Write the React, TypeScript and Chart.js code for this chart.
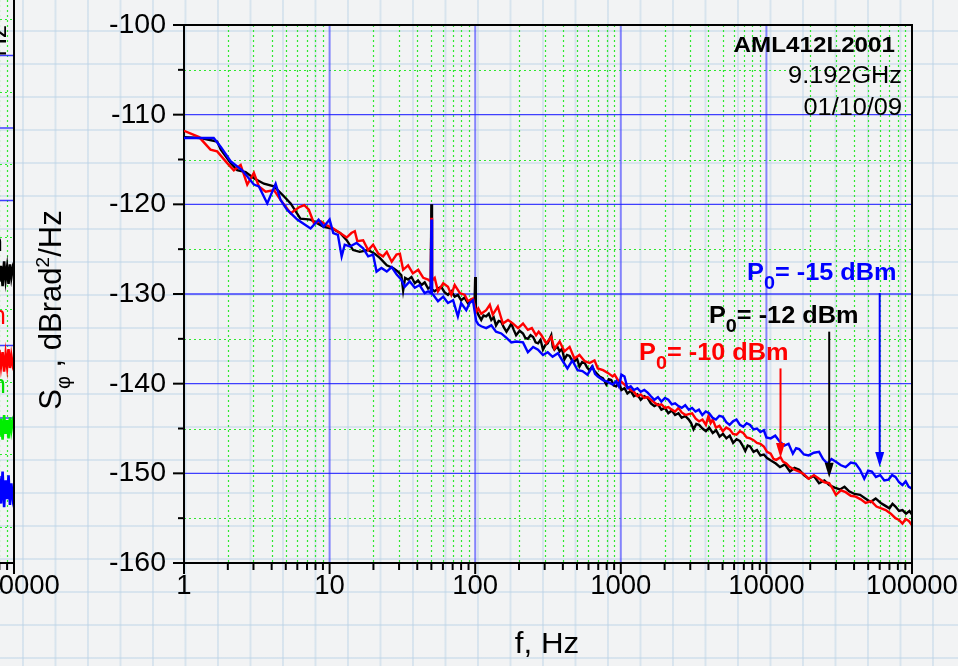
import React, { useEffect, useRef } from 'react';
import { Chart, registerables } from 'chart.js';

Chart.register(...registerables);

const FONT = '"Liberation Sans", Arial, Helvetica, sans-serif';

// ---------------- data (frequency Hz, S_phi dBrad^2/Hz) ----------------
const blackPsd: [number, number][] = [
  [1, -112.5], [1.3, -112.6], [1.69, -113.0], [1.79, -113.9], [2.09, -115.4], [2.32, -116.2], [2.65, -116.4],
  [3.02, -117.1], [3.54, -117.7], [4.15, -118.0], [4.85, -119.1], [5.4, -119.9], [6.3, -121.6], [7.4, -121.7],
  [8.2, -122.1], [9.1, -122.5], [10.4, -122.7], [11.8, -123.2], [13.1, -124.0], [14.5, -125.1], [16.1, -125.3],
  [18.4, -125.1], [20.4, -125.5], [22.2, -126.0], [24.7, -126.8], [27.3, -127.1], [29.5, -127.5], [31.1, -127.9],
  [32, -129.6], [33, -128.2], [34.6, -128.4], [36.5, -128.1], [38.5, -128.8], [40.5, -128.5], [42.8, -129.0],
  [45, -128.7], [47.5, -129.4], [49.5, -129.2], [50, -120.0], [50.5, -129.5], [52.7, -129.7], [55.5, -129.4],
  [58.5, -129.2], [61.5, -129.8], [65, -130.1], [68.5, -129.7], [72.3, -130.3], [76, -130.1], [80, -130.7],
  [84.5, -130.4], [89, -131.0], [94, -130.6], [99, -131.0], [100, -128.1], [101, -131.6], [105, -132.3],
  [110, -132.9], [114, -132.4], [119, -132.5], [124, -132.2], [129, -132.9], [134, -132.6], [139, -133.5],
  [145, -133.0], [151, -133.1], [157, -133.7], [164, -134.2], [170, -133.8], [177, -133.3], [184, -134.0],
  [191, -134.6], [202, -134.1], [213, -134.4], [221, -134.9], [230, -135.0], [240, -134.6], [250, -134.8],
  [260, -135.4], [270, -135.5], [281, -135.1], [292, -136.2], [303, -135.7], [315, -135.5], [333, -134.6],
  [341, -135.9], [350, -136.2], [365, -135.8], [380, -136.4], [395, -136.1], [410, -137.3], [427, -136.8],
  [445, -136.9], [462, -137.4], [480, -137.5], [500, -137.2], [520, -138.1], [542, -137.6], [565, -137.7],
  [587, -138.2], [610, -138.5], [635, -138.1], [660, -138.6], [687, -138.9], [715, -139.2], [755, -139.4],
  [795, -140.1], [827, -139.5], [860, -139.6], [895, -140.2], [930, -140.3], [970, -139.9], [1010, -140.7],
  [1060, -140.5], [1110, -141.1], [1170, -140.8], [1230, -141.4], [1300, -141.2], [1370, -141.8], [1450, -141.4],
  [1530, -141.6], [1610, -142.2], [1700, -142.5], [1800, -142.3], [1900, -142.9], [2010, -142.7], [2120, -143.3],
  [2240, -143.0], [2360, -143.5], [2490, -143.3], [2620, -143.8], [2770, -143.6], [2930, -144.0], [3040, -144.4],
  [3160, -145.1], [3300, -144.5], [3450, -144.6], [3640, -145.0], [3840, -145.3], [4050, -144.9], [4280, -145.5],
  [4520, -145.2], [4770, -145.9], [5040, -145.6], [5310, -146.1], [5600, -145.8], [5910, -146.6], [6240, -146.2],
  [6580, -146.4], [6860, -146.9], [7160, -147.5], [7440, -146.9], [7730, -147.0], [8160, -147.6], [8610, -147.4],
  [9090, -148.0], [9600, -147.9], [10100, -148.3], [10800, -148.6], [11600, -148.9], [12400, -149.3],
  [13400, -149.0], [14500, -149.8], [15600, -149.4], [16800, -149.6], [18100, -150.2], [19500, -150.6],
  [21200, -150.3], [23000, -151.1], [25000, -150.8], [27000, -151.3], [29400, -151.6], [32000, -151.8],
  [34400, -151.5], [37000, -152.0], [40300, -152.3], [44000, -152.4], [47800, -152.8], [52000, -153.2],
  [56300, -152.8], [61000, -153.3], [65300, -153.6], [70000, -153.9], [73500, -153.4], [77000, -153.7],
  [81500, -154.2], [86000, -154.1], [91000, -154.5], [96000, -154.2], [100000, -154.6],
];

const redPsd: [number, number][] = [
  [1, -111.8], [1.27, -112.5], [1.52, -113.9], [1.69, -114.1], [1.98, -115.4], [2.2, -116.2], [2.45, -115.6],
  [2.72, -117.8], [3.02, -116.5], [3.27, -118.0], [3.64, -118.6], [4.15, -118.4], [4.6, -119.5], [5.4, -121.0],
  [6.2, -120.3], [6.7, -120.1], [7.2, -120.6], [7.8, -122.1], [8.7, -121.9], [9.5, -122.3], [10.6, -122.7],
  [11.8, -123.2], [13.1, -123.7], [14.1, -123.2], [14.9, -123.0], [15.5, -124.1], [17.0, -124.0], [18.4, -125.1],
  [19.9, -124.5], [21.6, -125.5], [23.3, -125.8], [24.7, -125.3], [26.7, -126.4], [28.8, -125.6], [30.4, -125.5],
  [32.0, -127.3], [34.6, -126.8], [37.3, -127.7], [40.6, -127.3], [44, -128.2], [47.5, -128.4], [49.5, -128.6],
  [50, -121.5], [50.5, -128.5], [52.7, -128.2], [55.5, -129.7], [60.3, -128.8], [65, -129.2], [68.5, -130.1],
  [72.3, -129.0], [78.5, -129.9], [84.8, -130.1], [89, -130.8], [96.5, -130.5], [101.5, -132.0], [105, -131.6],
  [110, -132.2], [119, -131.8], [126, -131.2], [132, -132.3], [143, -131.4], [149, -132.4], [155, -133.3],
  [168, -132.9], [182, -133.3], [197, -133.8], [213, -133.3], [230, -134.0], [245, -133.8], [262, -134.6],
  [273, -134.2], [285, -134.6], [307, -135.5], [333, -134.8], [350, -136.1], [380, -135.3], [410, -136.4],
  [445, -135.9], [480, -137.2], [520, -136.8], [565, -137.5], [610, -137.7], [660, -137.4], [695, -138.3],
  [755, -138.5], [815, -138.8], [880, -139.2], [907, -139.0], [955, -139.6], [1010, -139.8], [1060, -140.1],
  [1110, -140.4], [1170, -140.7], [1230, -140.9], [1300, -141.4], [1370, -141.2], [1450, -141.6], [1530, -141.5],
  [1610, -141.8], [1700, -142.1], [1800, -142.4], [1900, -142.3], [2010, -142.7], [2120, -142.6], [2240, -142.9],
  [2360, -143.1], [2490, -142.7], [2620, -143.2], [2780, -143.5], [2930, -143.4], [3090, -143.3], [3270, -143.9],
  [3450, -144.2], [3640, -144.0], [3840, -144.6], [4000, -143.6], [4140, -144.4], [4280, -144.0], [4500, -144.9],
  [4760, -144.7], [5020, -145.3], [5300, -144.9], [5590, -145.1], [5900, -145.6], [6230, -145.7], [6580, -145.3],
  [6940, -145.5], [7320, -146.0], [7730, -146.1], [8160, -146.3], [8610, -146.6], [9090, -146.7], [9600, -147.0],
  [10100, -147.6], [10700, -147.8], [11200, -148.4], [11700, -148.5], [12500, -148.2], [13000, -148.7],
  [13700, -148.9], [14500, -149.3], [15600, -149.6], [16800, -149.8], [18100, -150.1], [19500, -150.6],
  [21200, -150.2], [23000, -150.6], [25000, -151.0], [27000, -151.1], [28500, -151.7], [30000, -152.4],
  [32500, -151.9], [35000, -152.1], [38000, -152.5], [41000, -152.6], [44500, -152.9], [48000, -153.3],
  [52500, -153.1], [57000, -153.7], [61500, -153.9], [66000, -154.1], [71500, -154.5], [77000, -155.0],
  [81500, -155.2], [86000, -155.6], [90500, -155.1], [95000, -155.3], [100000, -155.8],
];

const bluePsd: [number, number][] = [
  [1, -112.6], [1.3, -112.6], [1.6, -112.6], [1.79, -113.6], [2.09, -115.2], [2.51, -116.2], [3.02, -117.8],
  [3.27, -118.0], [3.73, -119.9], [4.26, -117.7], [4.6, -119.5], [5.1, -120.6], [6.0, -121.7], [7.4, -122.7],
  [8.4, -121.7], [9.1, -122.5], [10.0, -121.7], [10.6, -123.2], [11.4, -123.4], [12.1, -125.8], [12.7, -124.5],
  [13.8, -124.7], [15.3, -124.3], [17.0, -124.9], [18.4, -125.8], [19.9, -125.6], [21.0, -127.5], [22.7, -127.1],
  [24.7, -127.5], [26.7, -127.0], [28.8, -127.8], [31.1, -128.4], [32.8, -129.2], [35.5, -128.6], [38.5, -129.3],
  [41.5, -129.0], [45, -129.9], [47.5, -129.7], [49.5, -129.9], [50, -121.7], [50.5, -130.0], [51.5, -130.1],
  [55.5, -130.8], [60.3, -130.3], [65, -131.0], [70.5, -130.7], [76, -132.5], [80, -131.0], [86.8, -131.8],
  [91.5, -131.0], [96.5, -130.7], [101.5, -133.0], [105, -133.4], [110, -133.6], [119, -133.8], [129, -133.5],
  [139, -134.2], [151, -134.4], [164, -134.9], [177, -135.4], [191, -135.3], [213, -135.4], [230, -136.5],
  [250, -135.9], [270, -136.2], [292, -136.8], [315, -136.5], [340, -137.0], [370, -136.6], [400, -137.5],
  [430, -138.3], [465, -137.4], [505, -138.5], [545, -138.6], [590, -139.0], [640, -138.1], [665, -138.9],
  [695, -139.2], [755, -139.6], [815, -139.8], [880, -140.1], [930, -139.7], [970, -140.3], [1010, -139.0],
  [1060, -139.2], [1110, -140.5], [1170, -140.3], [1230, -140.7], [1300, -140.5], [1370, -140.9], [1450, -140.7],
  [1530, -141.0], [1610, -141.4], [1700, -141.8], [1800, -141.5], [1900, -142.0], [2010, -141.6], [2120, -141.8],
  [2240, -142.3], [2360, -142.2], [2490, -142.5], [2620, -142.7], [2770, -142.4], [2930, -142.9], [3090, -142.7],
  [3260, -143.1], [3440, -142.9], [3630, -143.5], [3830, -143.1], [4040, -143.3], [4270, -143.8], [4500, -144.0],
  [4750, -143.6], [5020, -143.7], [5300, -144.3], [5590, -144.6], [5900, -144.2], [6230, -144.0], [6580, -144.6],
  [6940, -144.8], [7320, -144.4], [7730, -144.6], [8160, -145.1], [8610, -145.0], [9090, -145.4], [9600, -145.2],
  [10000, -146.0], [10700, -146.1], [11500, -145.8], [12400, -146.5], [13300, -146.9], [14200, -146.7],
  [15200, -147.8], [16000, -147.2], [16800, -147.3], [18100, -147.9], [19500, -148.0], [21200, -147.7],
  [23000, -147.6], [24500, -148.4], [26200, -148.9], [28000, -148.4], [30000, -148.7], [32500, -149.1],
  [35000, -149.3], [38000, -148.8], [41000, -148.9], [44000, -149.6], [47000, -150.6], [50000, -149.7],
  [53000, -149.8], [56500, -150.4], [60500, -150.2], [64500, -150.8], [69000, -150.7], [73000, -150.2],
  [77000, -150.4], [81500, -151.0], [86000, -151.3], [90500, -150.9], [95000, -151.5], [100000, -151.7],
];

// neighbouring (cut-off) chart on the far left
const leftBlack: [number, number][] = [
  [76000, -120.5], [78000, -118.6], [80000, -121.2], [82000, -119.0], [84000, -121.8], [86000, -118.4],
  [88000, -120.9], [90000, -119.2], [92000, -121.5], [94000, -118.8], [96000, -120.6], [98000, -119.4], [100000, -120.2],
];
const leftRed: [number, number][] = [
  [76000, -131.5], [78000, -133.4], [80000, -130.6], [82000, -132.8], [84000, -130.9], [86000, -133.6],
  [88000, -131.2], [90000, -132.9], [92000, -130.5], [94000, -133.1], [96000, -131.4], [98000, -132.6], [100000, -131.8],
];
const leftGreen: [number, number][] = [
  [76000, -141.3], [78000, -139.4], [80000, -142.6], [82000, -140.1], [84000, -143.0], [86000, -139.6],
  [88000, -142.2], [90000, -140.3], [92000, -142.8], [94000, -139.9], [96000, -141.7], [98000, -140.5], [100000, -141.2],
];
const leftBlue: [number, number][] = [
  [76000, -150.6], [78000, -153.9], [80000, -148.0], [82000, -151.8], [84000, -147.4], [86000, -152.3],
  [88000, -148.6], [90000, -151.2], [92000, -147.9], [94000, -152.0], [96000, -149.0], [98000, -150.9], [100000, -149.6],
];

const xTickValues = [1, 10, 100, 1000, 10000, 100000];
const xTickLabels = ['1', '10', '100', '1000', '10000', '100000'];
const yTickValues = [-160, -150, -140, -130, -120, -110, -100];
const minorMultipliers = [2, 3, 4, 5, 6, 7, 8, 9];

const seriesNames = ['P0= -15 dBm', 'P0= -12 dBm', 'P0= -10 dBm'];
const seriesColors = ['#0000ff', '#ff0000', '#000000'];

const infoLines = ['AML412L2001', '9.192GHz', '01/10/09'];

// annotation texts and arrows (anchored in data units)
const annotations = [
  { color: '#0000ff', rest: '= -15 dBm', labelF: 78300, labelDb: -128.45, arrowF: 60000, fromDb: -129.9, toDb: -149.3 },
  { color: '#000000', rest: '= -12 dBm', labelF: 42900, labelDb: -133.25, arrowF: 27000, fromDb: -134.2, toDb: -150.5 },
  { color: '#ff0000', rest: '= -10 dBm', labelF: 14200, labelDb: -137.4, arrowF: 12500, fromDb: -138.3, toDb: -148.3 },
];

// ---------------- helpers ----------------
const toXY = (pts: [number, number][]) => pts.map(([x, y]) => ({ x, y }));

function seg(ctx: CanvasRenderingContext2D, x1: number, y1: number, x2: number, y2: number) {
  ctx.beginPath();
  ctx.moveTo(x1, y1);
  ctx.lineTo(x2, y2);
  ctx.stroke();
}

function drawText(ctx: CanvasRenderingContext2D, text: string, x: number, y: number, font: string,
  align: CanvasTextAlign, color: string, sx = 1) {
  ctx.save();
  ctx.translate(x, y);
  ctx.scale(sx, 1);
  ctx.font = font;
  ctx.fillStyle = color;
  ctx.textAlign = align;
  ctx.textBaseline = 'alphabetic';
  ctx.fillText(text, 0, 0);
  ctx.restore();
}

const MINOR_COLOR = '#2fe82f';
const MAJOR_H = 'rgba(30,30,255,0.85)';
const MAJOR_V = 'rgba(70,70,255,0.65)';

function drawGrid(chart: any, withYTicks: boolean) {
  const { ctx, chartArea: a, scales } = chart;
  const xs = scales.x;
  const ys = scales.y;
  const yMin = ys.min, yMax = ys.max;
  const xMinor: number[] = [];
  for (const d of xTickValues.slice(0, -1)) for (const m of minorMultipliers) xMinor.push(d * m);
  const yMajor: number[] = [];
  const yMinor: number[] = [];
  for (let v = Math.ceil(yMin / 5) * 5; v <= yMax + 1e-9; v += 5) {
    if (Math.abs(v % 10) < 1e-9) yMajor.push(v); else yMinor.push(v);
  }
  ctx.save();
  // minor dotted green
  ctx.strokeStyle = MINOR_COLOR;
  ctx.lineWidth = 1.2;
  ctx.setLineDash([2, 3]);
  for (const f of xMinor) {
    const p = Math.round(xs.getPixelForValue(f)) + 0.5;
    if (p < a.left + 1 || p > a.right - 1) continue;
    seg(ctx, p, a.top, p, a.bottom);
  }
  for (const v of yMinor) {
    const p = Math.round(ys.getPixelForValue(v)) + 0.5;
    if (p < a.top + 1 || p > a.bottom - 1) continue;
    seg(ctx, a.left, p, a.right, p);
  }
  ctx.setLineDash([]);
  // major blue
  ctx.strokeStyle = MAJOR_V;
  ctx.lineWidth = 2;
  for (const f of xTickValues) {
    const p = xs.getPixelForValue(f);
    if (p < a.left + 2 || p > a.right - 2) continue;
    seg(ctx, p, a.top, p, a.bottom);
  }
  ctx.strokeStyle = MAJOR_H;
  ctx.lineWidth = 1.4;
  for (const v of yMajor) {
    const p = ys.getPixelForValue(v);
    if (p < a.top + 2 || p > a.bottom - 2) continue;
    seg(ctx, a.left, p, a.right, p);
  }
  // tick marks
  ctx.strokeStyle = '#000';
  ctx.lineWidth = 2;
  for (const f of xTickValues) {
    const p = xs.getPixelForValue(f);
    seg(ctx, p, a.bottom, p, a.bottom + 11);
  }
  for (const f of xMinor) {
    const p = xs.getPixelForValue(f);
    seg(ctx, p, a.bottom, p, a.bottom + 7);
  }
  if (withYTicks) {
    for (const v of yMajor) {
      const p = ys.getPixelForValue(v);
      seg(ctx, a.left - 11, p, a.left, p);
    }
    for (const v of yMinor) {
      const p = ys.getPixelForValue(v);
      seg(ctx, a.left - 6, p, a.left, p);
    }
  }
  ctx.restore();
}

function drawFrame(chart: any, top: boolean) {
  const { ctx, chartArea: a } = chart;
  ctx.save();
  ctx.strokeStyle = '#000';
  ctx.lineWidth = 2;
  seg(ctx, a.right, a.top - (top ? 1 : 0), a.right, a.bottom);
  if (top) seg(ctx, a.left, a.top, a.right + 1, a.top);
  ctx.restore();
}

function drawPowerLabel(ctx: CanvasRenderingContext2D, xRight: number, baseline: number, color: string, rest: string) {
  const big = `bold 23px ${FONT}`;
  const small = `bold 18px ${FONT}`;
  const sx = 1.1;
  ctx.save();
  ctx.font = big;
  const wP = ctx.measureText('P').width;
  const wR = ctx.measureText(rest).width;
  ctx.font = small;
  const w0 = ctx.measureText('0').width;
  const total = (wP + w0 + wR) * sx;
  ctx.translate(xRight - total, baseline);
  ctx.scale(sx, 1);
  ctx.fillStyle = color;
  ctx.textAlign = 'left';
  ctx.textBaseline = 'alphabetic';
  ctx.font = big;
  ctx.fillText('P', 0, 0);
  ctx.font = small;
  ctx.fillText('0', wP, 9);
  ctx.font = big;
  ctx.fillText(rest, wP + w0, 0);
  ctx.restore();
}

function drawArrow(ctx: CanvasRenderingContext2D, x: number, y1: number, y2: number, color: string) {
  const head = 15;
  const hw = 4.5;
  ctx.save();
  ctx.strokeStyle = color;
  ctx.fillStyle = color;
  ctx.lineWidth = 2;
  seg(ctx, x, y1, x, y2 - head + 1);
  ctx.beginPath();
  ctx.moveTo(x - hw, y2 - head);
  ctx.lineTo(x + hw, y2 - head);
  ctx.lineTo(x, y2);
  ctx.closePath();
  ctx.fill();
  ctx.restore();
}

function drawYTitle(ctx: CanvasRenderingContext2D, cx: number, cy: number) {
  const size = 31;
  const parts = [
    { t: 'S', s: size, dy: 0 },
    { t: 'φ', s: 20, dy: 9 },
    { t: ' , dBrad', s: size, dy: 0 },
    { t: '2', s: 19, dy: -12 },
    { t: '/Hz', s: size, dy: 0 },
  ];
  ctx.save();
  ctx.translate(cx, cy);
  ctx.rotate(-Math.PI / 2);
  let total = 0;
  const widths: number[] = [];
  for (const p of parts) {
    ctx.font = `${p.s}px ${FONT}`;
    const w = ctx.measureText(p.t).width;
    widths.push(w);
    total += w;
  }
  let x = -total / 2;
  ctx.fillStyle = '#000';
  ctx.textAlign = 'left';
  ctx.textBaseline = 'alphabetic';
  parts.forEach((p, i) => {
    ctx.font = `${p.s}px ${FONT}`;
    ctx.fillText(p.t, x, p.dy);
    x += widths[i];
  });
  ctx.restore();
}

const mainPlugin = {
  id: 'mainDecor',
  beforeDraw(chart: any) {
    drawGrid(chart, true);
  },
  afterDatasetsDraw(chart: any) {
    const { ctx, chartArea: a, scales } = chart;
    const xs = scales.x;
    const ys = scales.y;
    drawFrame(chart, true);
    for (const an of annotations) {
      const ax = xs.getPixelForValue(an.arrowF);
      drawArrow(ctx, ax, ys.getPixelForValue(an.fromDb), ys.getPixelForValue(an.toDb), an.color);
      drawPowerLabel(ctx, xs.getPixelForValue(an.labelF), ys.getPixelForValue(an.labelDb), an.color, an.rest);
    }
    drawText(ctx, infoLines[0], a.right - 17, a.top + 27, `bold 22px ${FONT}`, 'right', '#000', 1.1);
    drawText(ctx, infoLines[1], a.right - 10, a.top + 58, `23px ${FONT}`, 'right', '#000', 1.1);
    drawText(ctx, infoLines[2], a.right - 10, a.top + 90, `23px ${FONT}`, 'right', '#000', 1.1);
    drawText(ctx, 'f, Hz', (a.left + a.right) / 2 - 1, 653, `29px ${FONT}`, 'center', '#000', 1.08);
    drawYTitle(ctx, 61, 310);
  },
};

const leftPlugin = {
  id: 'leftDecor',
  beforeDraw(chart: any) {
    drawGrid(chart, false);
  },
  afterDatasetsDraw(chart: any) {
    const { ctx, chartArea: a } = chart;
    drawFrame(chart, false);
    const R = a.right;
    const f = `26px ${FONT}`;
    drawText(ctx, 'dBm', R - 11, 251, f, 'right', '#000');
    drawText(ctx, 'dBm', R - 8, 324, f, 'right', '#ff0000');
    drawText(ctx, 'dBm', R - 8, 393, f, 'right', '#00dd00');
    ctx.save();
    ctx.translate(R - 8, 25);
    ctx.rotate(-Math.PI / 2);
    ctx.font = f;
    ctx.fillStyle = '#000';
    ctx.textAlign = 'right';
    ctx.fillText('Hz', 0, 0);
    ctx.restore();
  },
};

const xTickFont = { family: FONT, size: 27.5 };
const yTickFont = { family: FONT, size: 28.5 };

function lineDs(label: string, pts: [number, number][], color: string, width = 2.4) {
  return {
    label,
    data: toXY(pts),
    borderColor: color,
    backgroundColor: color,
    borderWidth: width,
    pointRadius: 0,
    fill: false,
    tension: 0,
  };
}

export default function App() {
  const mainRef = useRef<HTMLCanvasElement>(null);
  const leftRef = useRef<HTMLCanvasElement>(null);

  useEffect(() => {
    const main = new Chart(mainRef.current as HTMLCanvasElement, {
      type: 'line',
      data: {
        datasets: [
          lineDs(seriesNames[0], bluePsd, seriesColors[0]),
          lineDs(seriesNames[2], redPsd, seriesColors[1]),
          lineDs(seriesNames[1], blackPsd, seriesColors[2]),
        ],
      },
      options: {
        animation: false,
        responsive: false,
        maintainAspectRatio: false,
        layout: { padding: { top: 25, right: 46, bottom: 0, left: 0 } },
        plugins: { legend: { display: false }, tooltip: { enabled: false } },
        scales: {
          x: {
            type: 'logarithmic',
            min: 1,
            max: 100000,
            grid: { display: false, drawTicks: false },
            border: { display: true, color: '#000', width: 2 },
            ticks: {
              font: xTickFont,
              color: '#000',
              padding: 7,
              maxRotation: 0,
              autoSkip: false,
              callback: (_v: any, i: number) => xTickLabels[i],
            },
            afterBuildTicks: (s: any) => {
              s.ticks = xTickValues.map((value) => ({ value }));
            },
            afterFit: (s: any) => {
              s.height = 103;
              s.paddingLeft = 0;
              s.paddingRight = 0;
            },
          } as any,
          y: {
            type: 'linear',
            min: -160,
            max: -100,
            grid: { display: false, drawTicks: false },
            border: { display: true, color: '#000', width: 2 },
            ticks: {
              font: yTickFont,
              color: '#000',
              padding: 18,
              callback: (v: any) => String(v),
            },
            afterBuildTicks: (s: any) => {
              s.ticks = yTickValues.map((value) => ({ value }));
            },
            afterFit: (s: any) => {
              s.width = 184;
              s.paddingTop = 0;
              s.paddingBottom = 0;
            },
          } as any,
        },
      },
      plugins: [mainPlugin],
    } as any);

    const left = new Chart(leftRef.current as HTMLCanvasElement, {
      type: 'line',
      data: {
        datasets: [
          lineDs('black', leftBlack, '#000000', 2.6),
          lineDs('red', leftRed, '#ff0000', 2.6),
          lineDs('green', leftGreen, '#00ee00', 2.6),
          lineDs('blue', leftBlue, '#0000ff', 2.6),
        ],
      },
      options: {
        animation: false,
        responsive: false,
        maintainAspectRatio: false,
        layout: { padding: { top: 0, right: 46, bottom: 0, left: 0 } },
        plugins: { legend: { display: false }, tooltip: { enabled: false } },
        scales: {
          x: {
            type: 'logarithmic',
            min: 1,
            max: 100000,
            grid: { display: false, drawTicks: false },
            border: { display: true, color: '#000', width: 2 },
            ticks: {
              font: xTickFont,
              color: '#000',
              padding: 7,
              maxRotation: 0,
              autoSkip: false,
              callback: (_v: any, i: number) => xTickLabels[i],
            },
            afterBuildTicks: (s: any) => {
              s.ticks = xTickValues.map((value) => ({ value }));
            },
            afterFit: (s: any) => {
              s.height = 103;
              s.paddingLeft = 0;
              s.paddingRight = 0;
            },
          } as any,
          y: {
            type: 'linear',
            min: -160,
            max: -82.34,
            display: false,
          } as any,
        },
      },
      plugins: [leftPlugin],
    } as any);

    const lc = leftRef.current as HTMLCanvasElement;
    lc.style.left = `${14 - left.chartArea.right}px`;

    return () => {
      main.destroy();
      left.destroy();
    };
  }, []);

  return (
    <div
      style={{
        position: 'fixed',
        left: 0,
        top: 0,
        width: 958,
        height: 666,
        overflow: 'hidden',
        backgroundColor: '#f2f3f4',
        backgroundImage:
          'linear-gradient(to right, rgba(185,210,230,0.45) 2px, transparent 2px), linear-gradient(to bottom, rgba(185,210,230,0.45) 2px, transparent 2px)',
        backgroundSize: '32.5px 33px',
        backgroundPosition: '22px 30px',
      }}
    >
      <div style={{ position: 'absolute', left: 0, top: 0, width: 100, height: 666, overflow: 'hidden' }}>
        <canvas
          ref={leftRef}
          width={800}
          height={666}
          style={{ position: 'absolute', left: -740, top: 0, width: 800, height: 666 }}
        />
      </div>
      <canvas
        ref={mainRef}
        width={958}
        height={666}
        style={{ position: 'absolute', left: 0, top: 0, width: 958, height: 666 }}
      />
    </div>
  );
}
